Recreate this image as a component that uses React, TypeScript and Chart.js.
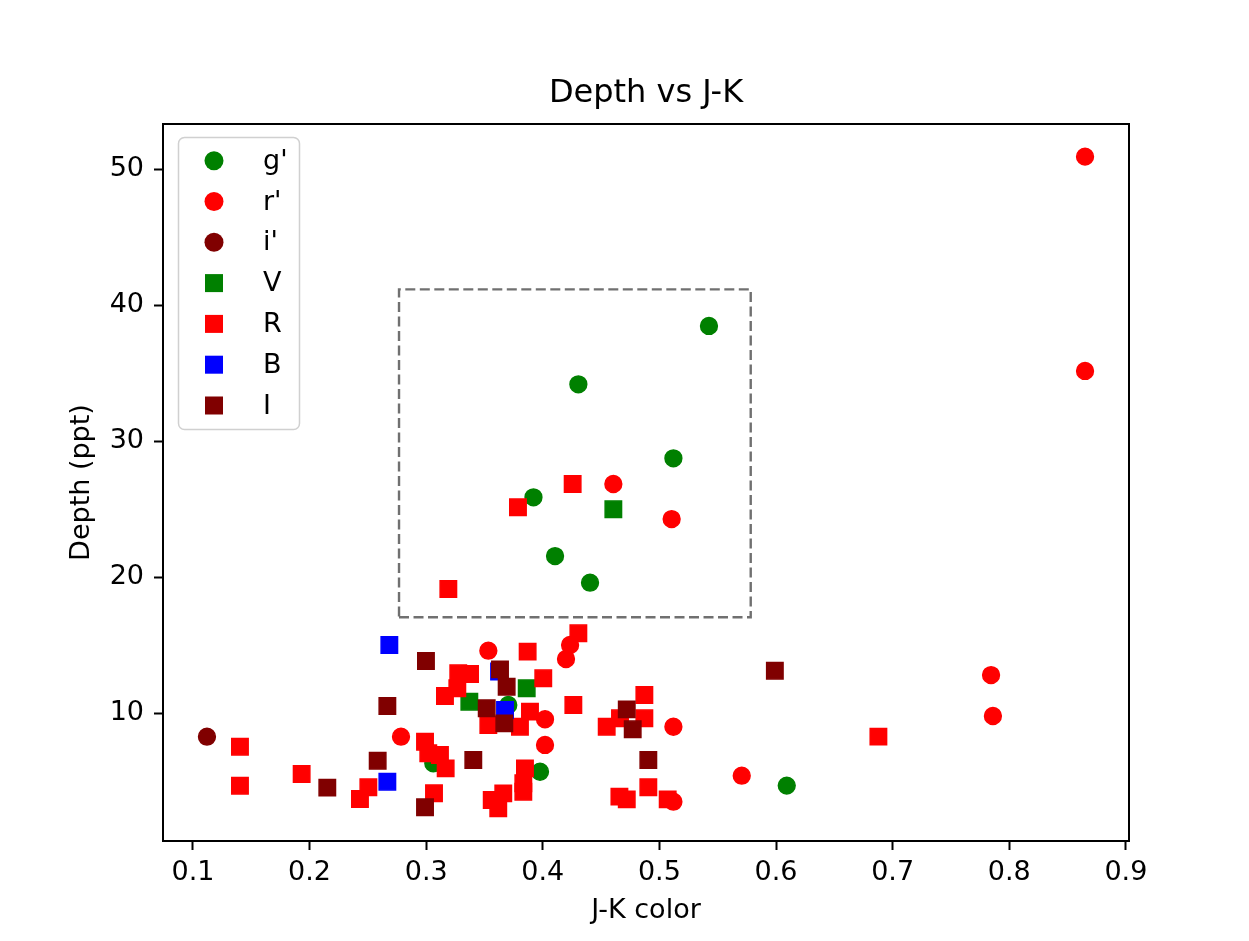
import React, { useEffect, useRef } from "react";
import { Chart, registerables } from "chart.js";

Chart.register(...registerables);

// ---------- data ----------
const chartTitle = "Depth vs J-K";
const xTicks = [0.1, 0.2, 0.3, 0.4, 0.5, 0.6, 0.7, 0.8, 0.9];
const yTicks = [10, 20, 30, 40, 50];

const gX = [0.5425, 0.4305, 0.512, 0.392, 0.4105, 0.4405, 0.3704, 0.3976, 0.6092, 0.3061];
const gY = [38.46, 34.17, 28.73, 25.86, 21.54, 19.58, 10.59, 5.68, 4.66, 6.3];

const rX = [0.865, 0.865, 0.4605, 0.5105, 0.7844, 0.786, 0.5706, 0.2784, 0.3533, 0.4234, 0.4199, 0.4019, 0.4019, 0.512, 0.512];
const rY = [50.91, 35.15, 26.84, 24.26, 12.79, 9.78, 5.39, 8.26, 14.58, 15.0, 13.97, 9.54, 7.65, 8.99, 3.48];

const iX = [0.112];
const iY = [8.26];

const VX = [0.4605, 0.337, 0.3862];
const VY = [24.98, 10.83, 11.82];

const RX = [
  0.4256, 0.3787, 0.319, 0.4305, 0.387, 0.4004, 0.4262, 0.3275, 0.3376, 0.3161,
  0.3267, 0.389, 0.3533, 0.3804, 0.1403, 0.1403, 0.1932, 0.2504, 0.2432, 0.299,
  0.3018, 0.3118, 0.3167, 0.3067, 0.3847, 0.3833, 0.3833, 0.3661, 0.3562, 0.3618,
  0.4548, 0.4662, 0.4871, 0.4871, 0.4905, 0.4657, 0.472, 0.5071, 0.6878,
];
const RY = [
  26.84, 25.13, 19.12, 15.86, 14.51, 12.55, 10.59, 12.92, 12.87, 11.25,
  11.82, 10.1, 9.12, 8.99, 7.52, 4.65, 5.51, 4.54, 3.68, 7.89,
  7.04, 6.91, 5.93, 4.1, 5.93, 4.83, 4.21, 4.09, 3.6, 2.99,
  8.99, 9.61, 11.32, 9.61, 4.54, 3.85, 3.65, 3.65, 8.26,
];

const BX = [0.2684, 0.2667, 0.3676, 0.3625];
const BY = [15.0, 4.95, 10.22, 13.05];

const IX = [0.599, 0.2998, 0.2667, 0.2584, 0.2152, 0.299, 0.3404, 0.3633, 0.369, 0.3519, 0.367, 0.472, 0.4771, 0.4905];
const IY = [13.11, 13.82, 10.51, 6.49, 4.51, 3.07, 6.54, 13.21, 11.93, 10.35, 9.24, 10.27, 8.8, 6.54];

// dashed selection box corners
const boxX = [0.2767, 0.5783, 0.5783, 0.2767, 0.2767];
const boxY = [17.04, 17.04, 41.15, 41.15, 17.04];

const seriesLabels = ["g'", "r'", "i'", "V", "R", "B", "I"];
const seriesColors = ["#008000", "#ff0000", "#800000", "#008000", "#ff0000", "#0000ff", "#800000"];
const seriesShapes = ["circle", "circle", "circle", "rect", "rect", "rect", "rect"];
const seriesXs = [gX, rX, iX, VX, RX, BX, IX];
const seriesYs = [gY, rY, iY, VY, RY, BY, IY];

const FONT = "'DejaVu Sans', 'Liberation Sans', sans-serif";

export default function App() {
  const ref = useRef<HTMLCanvasElement>(null);

  useEffect(() => {
    if (!ref.current) return;
    const toPts = (xs: number[], ys: number[]) => xs.map((x, i) => ({ x, y: ys[i] }));
    const n = seriesLabels.length;

    const datasets: any[] = seriesLabels.map((label, i) => ({
      type: "scatter",
      label,
      data: toPts(seriesXs[i], seriesYs[i]),
      backgroundColor: seriesColors[i],
      borderColor: seriesColors[i],
      borderWidth: 1.5,
      pointStyle: seriesShapes[i],
      pointRadius: seriesShapes[i] === "circle" ? 8.4 : 11.6,
      order: n - 1 - i,
    }));
    datasets.push({
      type: "line",
      label: "box",
      data: toPts(boxX, boxY),
      borderColor: "#707070",
      borderWidth: 2.4,
      borderDash: [10, 4.5],
      pointRadius: 0,
      fill: false,
      tension: 0,
      order: 100,
    });

    const extras = {
      id: "extras",
      afterDraw(chart: any) {
        const { ctx, chartArea } = chart;
        ctx.save();
        // spines
        ctx.strokeStyle = "#000";
        ctx.lineWidth = 2;
        ctx.strokeRect(chartArea.left, chartArea.top, chartArea.right - chartArea.left, chartArea.bottom - chartArea.top);
        // title centred over the plot area
        ctx.fillStyle = "#000";
        ctx.font = `32px ${FONT}`;
        ctx.textAlign = "center";
        ctx.textBaseline = "middle";
        ctx.fillText(chartTitle, (chartArea.left + chartArea.right) / 2, 94);
        // legend
        const bx = 178.5, by = 137.5, bw = 121, bh = 292;
        ctx.beginPath();
        ctx.roundRect(bx, by, bw, bh, 6);
        ctx.fillStyle = "rgba(255,255,255,0.85)";
        ctx.fill();
        ctx.strokeStyle = "#d0d0d0";
        ctx.lineWidth = 1.5;
        ctx.stroke();
        ctx.font = `27px ${FONT}`;
        ctx.textBaseline = "middle";
        ctx.textAlign = "left";
        for (let i = 0; i < n; i++) {
          const y = 160.7 + i * 40.8;
          const x = 214;
          ctx.fillStyle = seriesColors[i];
          if (seriesShapes[i] === "circle") {
            ctx.beginPath();
            ctx.arc(x, y, 9.5, 0, Math.PI * 2);
            ctx.fill();
          } else {
            ctx.fillRect(x - 9, y - 9, 18, 18);
          }
          ctx.fillStyle = "#000";
          ctx.fillText(seriesLabels[i], 263, y + 1);
        }
        ctx.restore();
      },
    };

    const chart = new Chart(ref.current, {
      type: "scatter",
      data: { datasets },
      options: {
        responsive: false,
        animation: false,
        devicePixelRatio: 1,
        layout: { padding: { left: 0, right: 120, top: 124, bottom: 0 } },
        plugins: {
          legend: { display: false },
          tooltip: { enabled: false },
          title: { display: false },
        },
        scales: {
          x: {
            type: "linear",
            min: 0.0743,
            max: 0.9027,
            afterFit: (s: any) => { s.height = 100; },
            afterBuildTicks: (s: any) => { s.ticks = xTicks.map((v) => ({ value: v })); },
            ticks: {
              color: "#000",
              font: { size: 27, family: FONT },
              padding: 7,
              maxRotation: 0,
              callback: (v: any) => Number(v).toFixed(1),
            },
            grid: { display: true, drawOnChartArea: false, drawTicks: true, tickLength: 9, tickWidth: 2, tickColor: "#000" },
            border: { display: true, color: "#000", width: 2 },
            title: {
              display: true,
              text: "J-K color",
              color: "#000",
              font: { size: 27, family: FONT },
              padding: { top: 0, bottom: 14 },
            },
          },
          y: {
            type: "linear",
            min: 0.588,
            max: 53.31,
            afterFit: (s: any) => { s.width = 163; },
            afterBuildTicks: (s: any) => { s.ticks = yTicks.map((v) => ({ value: v })); },
            ticks: {
              color: "#000",
              font: { size: 27, family: FONT },
              padding: 10,
              callback: (v: any) => String(v),
            },
            grid: { display: true, drawOnChartArea: false, drawTicks: true, tickLength: 9, tickWidth: 2, tickColor: "#000" },
            border: { display: true, color: "#000", width: 2 },
            title: {
              display: true,
              text: "Depth (ppt)",
              color: "#000",
              font: { size: 27, family: FONT },
              padding: { top: 66, bottom: 0 },
            },
          },
        },
      },
      plugins: [extras],
    } as any);

    return () => chart.destroy();
  }, []);

  return (
    <div style={{ position: "fixed", left: 0, top: 0, width: 1249, height: 941, background: "#fff" }}>
      <canvas ref={ref} width={1249} height={941} style={{ width: 1249, height: 941, display: "block" }} />
    </div>
  );
}
